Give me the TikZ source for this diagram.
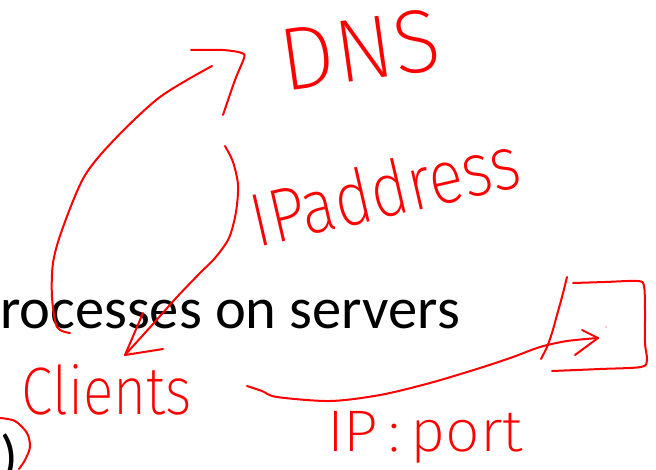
\documentclass[tikz,border=0pt]{standalone}
\usepackage{fontspec}
\setmainfont{Carlito}
\IfFontExistsTF{Fira Sans ExtraLight}{\newfontfamily\handfont{Fira Sans ExtraLight}}{%
 \IfFontExistsTF{Fira Sans Light}{\newfontfamily\handfont{Fira Sans Light}}{%
  \IfFontExistsTF{Lato Light}{\newfontfamily\handfont{Lato Light}}{\newfontfamily\handfont{Fira Sans}}}}
\definecolor{inkred}{RGB}{255,0,0}
\tikzset{
  ink/.style={draw=inkred, line width=2pt, line cap=round, line join=round},
  handlbl/.style={inner sep=0pt, outer sep=0pt, text=inkred},
  slidetxt/.style={inner sep=0pt, outer sep=0pt, text=black, font=\fontsize{58.5}{60}\selectfont}
}
\begin{document}
\begin{tikzpicture}[x=1pt,y=-1pt]
\useasboundingbox (0,0) rectangle (656,469);
\fill[white] (0,0) rectangle (656,469);
% slide text
\node[slidetxt, anchor=base west] (procs) at (0,328) {rocesses on servers};
\node[slidetxt, anchor=base west] (paren) at (0,476) {)};
% handwritten labels
\node[handlbl, rotate=8, anchor=center] (dns) at (360,50) {\resizebox{160pt}{62pt}{\handfont DNS}};
\node[handlbl, rotate=13, anchor=south west] (ipaddr) at (258,248) {\resizebox{274pt}{56pt}{\handfont IPaddress}};
\node[handlbl, anchor=north west] (clients) at (22,364) {\resizebox{170pt}{50pt}{\handfont Clients}};
\node[handlbl, anchor=north west] (ipport) at (327,411) {\resizebox*{196pt}{52pt}{\handfont IP\,:\,port}};
% left arc: Clients -> DNS
\draw[ink] plot[smooth] coordinates {(70,333) (57,327) (52,297) (53,263) (62,230) (84,177) (114,140) (160,97) (212,66)};
\draw[ink] plot[smooth] coordinates {(191,50) (223,50) (242,53) (244,58) (235,80) (223,115)};
% right arc: DNS -> Clients
\draw[ink] plot[smooth] coordinates {(225,146) (233,162) (238,185) (236,212) (229,238) (215,258) (200,273) (177,297) (153,324) (125,355)};
\draw[ink] (143,313) -- (125,355) -- (163,349);
% Clients -> server box
\draw[ink] plot[smooth] coordinates {(247,386) (262,391) (277,397) (330,401) (380,395) (430,383) (480,368) (513,357) (540,347) (567,341) (598,338)};
\draw[ink] (582,330) -- (598,338) -- (575,355);
% server box
\draw[ink] plot[smooth] coordinates {(567,277) (562,297) (557,315) (552,333) (547,347) (541,359)};
\draw[ink] plot[smooth] coordinates {(573,283) (605,282) (638,281) (644,286) (645,310) (645,343) (647,360) (641,367) (600,369) (552,371)};
\fill[inkred] (606,327) circle (0.7);
% circle around parenthesis
\draw[ink] plot[smooth] coordinates {(0,418) (15,421) (27,433) (30,447) (25,460) (19,469)};
\end{tikzpicture}
\end{document}
